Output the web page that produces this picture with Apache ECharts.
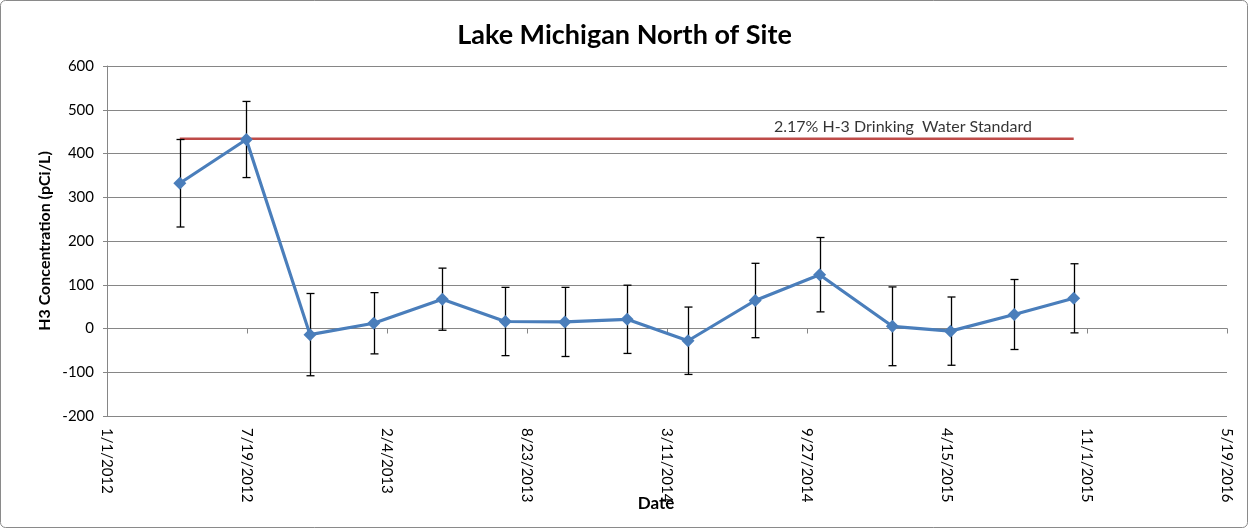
<!DOCTYPE html>
<html>
<head>
<meta charset="utf-8">
<title>Lake Michigan North of Site</title>
<script src="https://cdn.jsdelivr.net/npm/echarts@6/dist/echarts.min.js"></script>
<style>
  html, body { margin: 0; padding: 0; background: #fff; }
  #chart { width: 1249px; height: 529px; }
</style>
</head>
<body>
<div id="chart"></div>
<script>
// Sampling dates and measured H-3 concentrations (pCi/L) with their ± uncertainties
const sampleDates = ['2012-04-14', '2012-07-18', '2012-10-17', '2013-01-16', '2013-04-24',
  '2013-07-23', '2013-10-16', '2014-01-13', '2014-04-10', '2014-07-15', '2014-10-15',
  '2015-01-27', '2015-04-20', '2015-07-20', '2015-10-13'];
const h3Values = [332, 432, -14, 12, 67, 16, 15, 21, -28, 64, 123, 5, -6, 32, 69];
const uncertainties = [100, 87, 94, 70, 71, 78, 79, 78, 77, 85, 85, 90, 78, 80, 79];

// 2.17% of the 20,000 pCi/L H-3 drinking water standard
const standardValue = 434;
const standardText = '2.17% H-3 Drinking  Water Standard';
const standardLabelDate = '2015-02-11';

// Date axis: days counted from 1/1/2012, ticks every 200 days
const axisStart = '2012-01-01';
const axisDays = 1600;
const tickDays = 200;

const DAY_MS = 86400000;
function toUTC(s) { const p = s.split('-').map(Number); return Date.UTC(p[0], p[1] - 1, p[2]); }
const originMs = toUTC(axisStart);
function dayOf(s) { return Math.round((toUTC(s) - originMs) / DAY_MS); }
function dayLabel(v) {
  const d = new Date(originMs + v * DAY_MS);
  return (d.getUTCMonth() + 1) + '/' + d.getUTCDate() + '/' + d.getUTCFullYear();
}

const points = sampleDates.map((s, i) => [dayOf(s), h3Values[i]]);
const bars = sampleDates.map((s, i) => [dayOf(s), h3Values[i] - uncertainties[i], h3Values[i] + uncertainties[i]]);
const standardLine = [[dayOf(sampleDates[0]), standardValue], [dayOf(sampleDates[sampleDates.length - 1]), standardValue]];

const FONT = 'Lato, "Liberation Sans", sans-serif';
const GRID = '#868686';

const chart = echarts.init(document.getElementById('chart'), null, { renderer: 'canvas' });

chart.setOption({
  animation: false,
  backgroundColor: '#fff',
  title: {
    text: 'Lake Michigan North of Site',
    left: 'center',
    top: 17,
    textStyle: { fontFamily: FONT, fontSize: 27, fontWeight: 'bold', color: '#000' }
  },
  graphic: [{
    type: 'rect',
    shape: { x: 0.5, y: 0.5, width: 1247, height: 527, r: 5 },
    style: { fill: 'none', stroke: '#8a8a8a', lineWidth: 1 },
    silent: true
  }],
  grid: { left: 107, right: 22, top: 66, bottom: 113, outerBoundsMode: 'none' },
  xAxis: [{
    type: 'value',
    min: 0, max: axisDays, interval: tickDays,
    axisLine: { show: true, onZero: true, onZeroAxisIndex: 0, lineStyle: { color: GRID, width: 1 } },
    axisTick: { show: true, length: 5, lineStyle: { color: GRID } },
    axisLabel: { show: false },
    splitLine: { show: false }
  }, {
    type: 'value',
    position: 'bottom',
    min: 0, max: axisDays, interval: tickDays,
    axisLine: { show: false, onZero: false },
    axisTick: { show: false },
    splitLine: { show: false },
    axisLabel: {
      rotate: -90, margin: 12, showMinLabel: true, showMaxLabel: true,
      fontFamily: FONT, fontSize: 15, color: '#000',
      formatter: dayLabel
    },
    name: 'Date',
    nameLocation: 'middle',
    nameGap: 79,
    nameMoveOverlap: false,
    nameTextStyle: { fontFamily: FONT, fontSize: 17, fontWeight: 'bold', color: '#000', padding: [0, 22, 0, 0] }
  }],
  yAxis: {
    type: 'value',
    min: -200, max: 600, interval: 100,
    axisLine: { show: true, lineStyle: { color: GRID, width: 1 } },
    axisTick: { show: true, length: 4, lineStyle: { color: GRID } },
    splitLine: { show: true, lineStyle: { color: GRID, width: 1 } },
    axisLabel: { margin: 13, fontFamily: FONT, fontSize: 15, color: '#000' },
    name: 'H3 Concentration (pCi/L)',
    nameLocation: 'middle',
    nameGap: 54,
    nameMoveOverlap: false,
    nameTextStyle: { fontFamily: FONT, fontSize: 16, fontWeight: 'bold', color: '#000' }
  },
  series: [{
    name: 'Standard',
    type: 'line',
    data: standardLine,
    showSymbol: false,
    symbol: 'none',
    lineStyle: { color: '#be4b48', width: 2.5 },
    z: 2
  }, {
    name: 'Standard label',
    type: 'scatter',
    data: [[dayOf(standardLabelDate), standardValue]],
    symbolSize: 0,
    silent: true,
    label: {
      show: true, position: 'top', distance: 4,
      formatter: standardText,
      fontFamily: FONT, fontSize: 16, color: '#000'
    },
    z: 3
  }, {
    name: 'Uncertainty',
    type: 'custom',
    data: bars,
    renderItem: function (params, api) {
      const x = api.value(0);
      const lo = api.coord([x, api.value(1)]);
      const hi = api.coord([x, api.value(2)]);
      const cap = 4;
      const st = { stroke: '#000', lineWidth: 1.3 };
      const px = Math.round(lo[0]) + 0.5;
      return {
        type: 'group',
        children: [
          { type: 'line', shape: { x1: px, y1: hi[1], x2: px, y2: lo[1] }, style: st },
          { type: 'line', shape: { x1: px - cap, y1: hi[1], x2: px + cap, y2: hi[1] }, style: st },
          { type: 'line', shape: { x1: px - cap, y1: lo[1], x2: px + cap, y2: lo[1] }, style: st }
        ]
      };
    },
    z: 4
  }, {
    name: 'H3',
    type: 'line',
    data: points,
    symbol: 'diamond',
    symbolSize: 13,
    itemStyle: { color: '#4a7ebb' },
    lineStyle: { color: '#4a7ebb', width: 3.2 },
    z: 5
  }]
});
</script>
</body>
</html>
